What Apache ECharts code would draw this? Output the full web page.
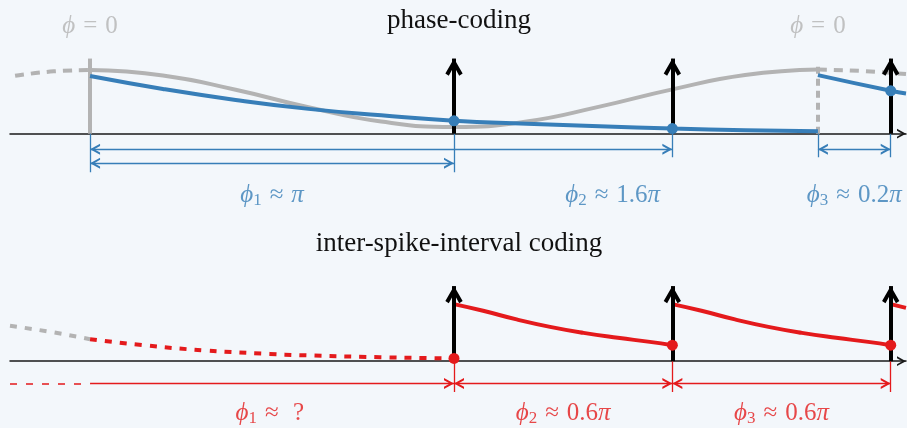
<!DOCTYPE html>
<html>
<head>
<meta charset="utf-8">
<script src="https://cdn.jsdelivr.net/npm/echarts@6/dist/echarts.min.js"></script>
<style>
  html, body { margin: 0; padding: 0; background: #f3f7fb; }
  #chart { width: 907px; height: 428px; }
</style>
</head>
<body>
<div id="chart"></div>
<script>
// time axis in ms, the reference oscillation has a 100 ms period
const spikeTimes = [50, 80, 110];
const phaseZeros = [0, 100];

// phase-coding panel
const oscPre = [[-10.3, 0.77], [-5, 0.83], [0, 0.847]];
const oscMain = [[0, 0.847], [10, 0.775], [20, 0.585], [30, 0.352], [40, 0.162], [50, 0.088],
  [60, 0.162], [70, 0.36], [80, 0.59], [90, 0.78], [100, 0.853]];
const oscPost = [[100, 0.853], [106, 0.835], [112.1, 0.793]];
const phaseTrace1 = [[0, 0.767], [10, 0.595], [20, 0.449], [30, 0.33], [40, 0.244], [50, 0.171],
  [60, 0.133], [70, 0.099], [80, 0.068], [90, 0.047], [100, 0.033]];
const phaseTrace2 = [[100, 0.78], [110, 0.571], [112.1, 0.536]];
const phaseDots = [[50, 0.171], [80, 0.068], [110, 0.571]];
const phaseIntervals = [[0, 50], [0, 80], [100, 110]];
const phaseLabels = ['ϕ1 ≈ π', 'ϕ2 ≈ 1.6π', 'ϕ3 ≈ 0.2π'];
const zeroLabel = 'ϕ = 0';

// inter-spike-interval panel
const isiPreGray = [[-11, 0.471], [-5.5, 0.391], [0, 0.293]];
const isiPre = [[0, 0.293], [7.3, 0.213], [15.8, 0.143], [24.7, 0.097], [28.8, 0.08], [39.8, 0.053], [50, 0.036]];
const isiTrace1 = [[50, 0.76], [54, 0.671], [58.6, 0.556], [63.2, 0.457], [67.8, 0.377], [72.5, 0.311], [76.9, 0.257], [80, 0.213]];
const isiTrace2 = [[80, 0.76], [84, 0.671], [88.6, 0.556], [93.2, 0.457], [97.8, 0.377], [102.5, 0.311], [106.9, 0.257], [110, 0.213]];
const isiTrace3 = [[110, 0.76], [112.1, 0.71]];
const isiDots = [[50, 0.036], [80, 0.213], [110, 0.213]];
const isiIntervals = [[0, 50], [50, 80], [80, 110]];
const isiLabels = ['ϕ1 ≈  ?', 'ϕ2 ≈ 0.6π', 'ϕ3 ≈ 0.6π'];

const BLUE = '#377eb8', RED = '#e41a1c', GRAY = '#b3b3b3', INK = '#1a1a1a';
const SERIF = "'Liberation Serif', 'DejaVu Serif', serif";

// arrow heads point up, tip at the centre of the box
const spikeHead = 'path://M0,0L0,0M20,20L20,20M10,10L14.8,18.3L12.9,19.5L10,14.3L7.1,19.5L5.2,18.3Z';
const smallHead = 'path://M0,0L0,0M20,20L20,20M10,10L15.5,20L13.3,20L10,14.2L6.7,20L4.5,20Z';

function mathRich(s) {
  return s.replace(/ϕ(\d)?/, (m, d) => '{v|ϕ}' + (d ? '{s|' + d + '}' : ''))
    .replace(/π/g, '{v|π}')
    .replace(/ (≈|=) /, '{r|$1}');
}

function curve(gi, data, color, width, dash, z) {
  return {
    type: 'line', xAxisIndex: gi, yAxisIndex: gi, data: data,
    smooth: 0.5, showSymbol: false, silent: true, z: z,
    lineStyle: { color: color, width: width, type: dash || 'solid', cap: 'butt' }
  };
}

function segs(gi, coords, color, width, symbols, size, dash, z) {
  return {
    type: 'lines', coordinateSystem: 'cartesian2d', xAxisIndex: gi, yAxisIndex: gi,
    data: coords.map(c => ({ coords: c })),
    symbol: symbols, symbolSize: size, silent: true, z: z,
    lineStyle: { color: color, width: width, type: dash || 'solid', opacity: 1, curveness: 0 }
  };
}

function dots(gi, data, color) {
  return {
    type: 'scatter', xAxisIndex: gi, yAxisIndex: gi, data: data, silent: true, z: 8,
    symbolSize: 11, itemStyle: { color: color, opacity: 1 }
  };
}

function texts(gi, pts, strs, color) {
  return {
    type: 'scatter', xAxisIndex: gi, yAxisIndex: gi, silent: true, z: 9,
    symbolSize: 1, itemStyle: { color: 'transparent' },
    data: pts.map((p, i) => ({ value: p, name: strs[i] })),
    label: {
      show: true, position: 'inside', formatter: p => mathRich(p.name),
      color: color, fontFamily: SERIF, fontSize: 25, lineHeight: 28,
      rich: {
        v: { fontStyle: 'italic', fontFamily: SERIF, fontSize: 25, lineHeight: 28, color: color },
        s: { fontFamily: SERIF, fontSize: 17, lineHeight: 17, verticalAlign: 'bottom', color: color },
        r: { fontFamily: SERIF, fontSize: 25, lineHeight: 28, padding: [0, 8, 0, 8], color: color }
      }
    }
  };
}

const spikes = spikeTimes.map(t => [[t, 0], [t, 1]]);
const phaseLevels = [-0.393, -0.207, -0.207];

const series = [
  // phase coding
  curve(0, oscPre, GRAY, 4, [9, 7], 2),
  curve(0, oscMain, GRAY, 4, null, 2),
  curve(0, oscPost, GRAY, 4, [9, 7], 2),
  segs(0, [[[phaseZeros[0], 0], [phaseZeros[0], 1]]], GRAY, 4, ['none', 'none'], 0, null, 3),
  segs(0, [[[phaseZeros[1], 0], [phaseZeros[1], 0.94]]], GRAY, 4, ['none', 'none'], 0, [7, 5], 3),
  curve(0, phaseTrace1, BLUE, 4, null, 4),
  curve(0, phaseTrace2, BLUE, 4, null, 4),
  segs(0, spikes, '#000', 4, ['none', spikeHead], 36, null, 6),
  dots(0, phaseDots, BLUE),
  segs(0, [0, 50].map(t => [[t, 0], [t, -0.513]]).concat([80, 100, 110].map(t => [[t, 0], [t, -0.313]])),
    BLUE, 1.3, ['none', 'none'], 0, null, 3),
  segs(0, phaseIntervals.map((iv, i) => [[iv[0], phaseLevels[i]], [iv[1], phaseLevels[i]]]),
    BLUE, 1.3, [smallHead, smallHead], 20, null, 3),
  texts(0, [[25, -0.82], [71.8, -0.82], [105, -0.82]], phaseLabels, BLUE),
  texts(0, phaseZeros.map(t => [t, 1.43]), [zeroLabel, zeroLabel], GRAY),

  // inter-spike-interval coding
  curve(1, isiPreGray, GRAY, 4, [7, 8], 2),
  curve(1, isiPre, RED, 4, [7, 8], 3),
  curve(1, isiTrace1, RED, 4, null, 4),
  curve(1, isiTrace2, RED, 4, null, 4),
  curve(1, isiTrace3, RED, 4, null, 4),
  segs(1, spikes, '#000', 4, ['none', spikeHead], 36, null, 6),
  dots(1, isiDots, RED),
  segs(1, spikeTimes.map(t => [[t, 0], [t, -0.41]]), RED, 1.3, ['none', 'none'], 0, null, 3),
  segs(1, [[[-11, -0.297], [isiIntervals[0][0], -0.297]]], RED, 1.5, ['none', 'none'], 0, [7, 9], 3),
  segs(1, [[[isiIntervals[0][0], -0.297], [isiIntervals[0][1], -0.297]]], RED, 1.3, ['none', smallHead], 20, null, 3),
  segs(1, isiIntervals.slice(1).map(iv => [[iv[0], -0.297], [iv[1], -0.297]]), RED, 1.3, [smallHead, smallHead], 20, null, 3),
  texts(1, [[24.7, -0.693], [65, -0.693], [95, -0.693]], isiLabels, RED)
];

const xAxisBase = {
  type: 'value', min: -11, max: 112.1,
  axisLine: { show: true, onZero: true, symbol: ['none', smallHead], symbolSize: [18, 18],
    lineStyle: { color: INK, width: 1.5 } },
  axisTick: { show: false }, axisLabel: { show: false }, splitLine: { show: false }
};

const option = {
  backgroundColor: '#f3f7fb',
  animation: false,
  title: [
    { text: 'phase-coding', left: 459, top: 7, textAlign: 'center', padding: 0,
      textStyle: { fontFamily: SERIF, fontSize: 27, fontWeight: 'normal', color: '#111' } },
    { text: 'inter-spike-interval coding', left: 459, top: 230, textAlign: 'center', padding: 0,
      textStyle: { fontFamily: SERIF, fontSize: 27, fontWeight: 'normal', color: '#111' } }
  ],
  grid: [
    { left: 10, right: 1, top: 0, height: 214 },
    { left: 10, right: 1, top: 214, height: 214 }
  ],
  xAxis: [
    Object.assign({ gridIndex: 0 }, xAxisBase),
    Object.assign({ gridIndex: 1 }, xAxisBase)
  ],
  yAxis: [
    { gridIndex: 0, type: 'value', min: -1.07, max: 1.78, show: false },
    { gridIndex: 1, type: 'value', min: -0.89, max: 1.96, show: false }
  ],
  series: series
};

const chart = echarts.init(document.getElementById('chart'));
chart.setOption(option);
</script>
</body>
</html>
